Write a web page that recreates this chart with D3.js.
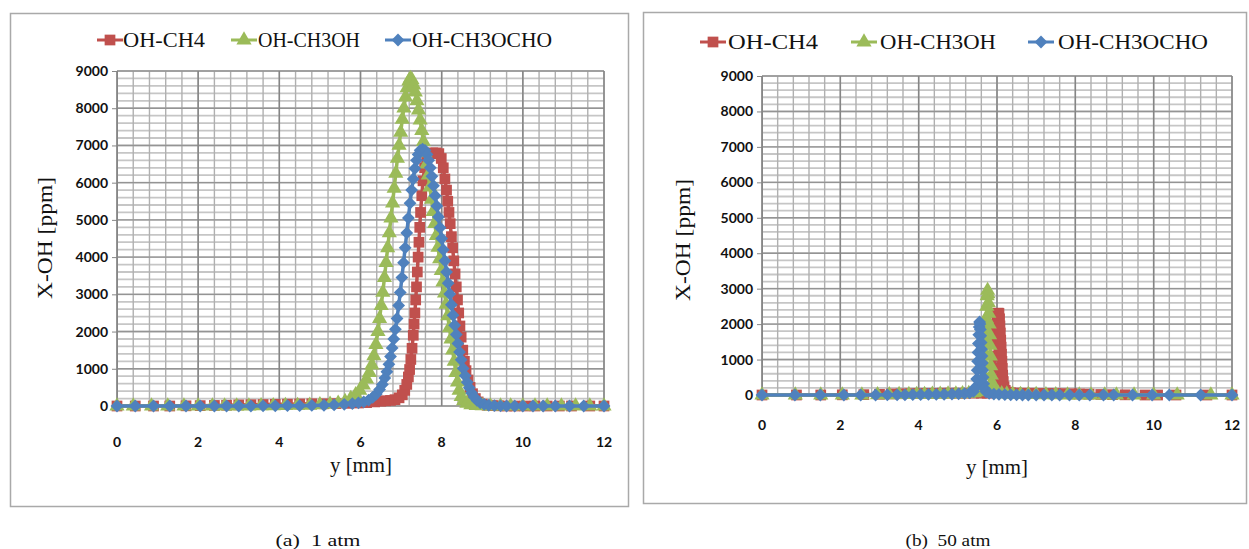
<!DOCTYPE html>
<meta charset="utf-8">
<body>
<script src="https://cdn.jsdelivr.net/npm/d3@7"></script>
<style>
  body { margin: 0; background: #fff; }
  .tick-lbl { font: bold 14px Lato, "Liberation Sans", sans-serif; fill: #111; }
  .serif { font-family: "Liberation Serif", "DejaVu Serif", serif; fill: #111; }
</style>
<svg id="chart" width="1249" height="549"></svg>
<script>
// ---- data ----
var seriesNames = ["OH-CH4", "OH-CH3OH", "OH-CH3OCHO"];
var seriesColors = ["#c0504d", "#9bbb59", "#4f81bd"];
var xTicks = [0, 2, 4, 6, 8, 10, 12];
var yTicks = [0, 1000, 2000, 3000, 4000, 5000, 6000, 7000, 8000, 9000];
var captions = ["(a)  1 atm", "(b)  50 atm"];
var xTitle = "y [mm]";
var yTitle = "X-OH [ppm]";

// (a) 1 atm, pairs of [y mm, X-OH ppm]
var ch4_1atm = [[0,0],[0.45,0],[0.9,0],[1.3,0],[1.7,5],[2.05,10],[2.4,15],[2.7,20],[3.0,30],[3.3,35],
  [3.6,40],[3.9,45],[4.2,50],[4.5,55],[4.8,60],[5.1,60],[5.4,65],[5.7,70],[5.95,80],[6.15,90],
  [6.35,110],[6.5,130],[6.62,140],[6.74,150],[6.85,170],[6.95,220],[7.03,300],[7.09,420],[7.14,580],[7.18,780],
  [7.21,980],[7.24,1250],[7.27,1550],[7.3,1900],[7.32,2200],[7.34,2500],[7.36,2850],[7.38,3200],[7.4,3600],[7.42,4000],
  [7.44,4400],[7.46,4800],[7.48,5200],[7.51,5650],[7.54,6050],[7.58,6400],[7.63,6650],[7.7,6780],[7.78,6800],[7.86,6800],
  [7.93,6780],[7.99,6650],[8.04,6400],[8.08,6100],[8.12,5800],[8.15,5500],[8.18,5200],[8.21,4900],[8.24,4550],[8.27,4250],
  [8.3,3900],[8.33,3550],[8.36,3200],[8.39,2850],[8.42,2500],[8.45,2150],[8.48,1850],[8.52,1500],[8.56,1200],[8.6,950],
  [8.65,700],[8.7,500],[8.76,330],[8.83,200],[8.9,110],[9.0,50],[9.12,20],[9.25,10],[9.4,5],[9.6,0],
  [9.8,0],[10.05,0],[10.3,0],[10.6,0],[10.9,0],[11.2,0],[11.65,0],[12.0,0]];

var ch3oh_1atm = [[0,0],[0.4,0],[0.85,0],[1.25,0],[1.65,0],[2.0,0],[2.35,0],[2.65,0],[2.95,0],[3.25,0],
  [3.55,5],[3.85,5],[4.15,10],[4.45,15],[4.75,20],[5.0,30],[5.25,45],[5.45,70],[5.62,120],[5.76,200],
  [5.88,300],[5.98,420],[6.07,560],[6.15,720],[6.22,900],[6.28,1100],[6.33,1350],[6.38,1650],[6.43,2000],[6.47,2350],
  [6.51,2700],[6.55,3050],[6.59,3450],[6.63,3850],[6.67,4250],[6.71,4650],[6.75,5050],[6.79,5450],[6.83,5850],[6.87,6250],
  [6.91,6650],[6.95,7000],[6.99,7350],[7.03,7700],[7.07,8000],[7.11,8300],[7.15,8550],[7.19,8730],[7.23,8800],[7.27,8760],
  [7.31,8620],[7.35,8430],[7.39,8200],[7.43,7950],[7.47,7680],[7.51,7400],[7.55,7100],[7.59,6800],[7.63,6500],[7.67,6200],
  [7.71,5880],[7.75,5550],[7.79,5220],[7.83,4900],[7.87,4580],[7.91,4260],[7.95,3950],[7.99,3640],[8.03,3330],[8.07,3030],
  [8.11,2730],[8.15,2420],[8.19,2100],[8.23,1800],[8.27,1500],[8.31,1200],[8.35,900],[8.39,640],[8.43,420],[8.48,250],
  [8.54,140],[8.62,70],[8.72,30],[8.85,10],[9.0,5],[9.2,0],[9.45,0],[9.7,0],[10.0,0],[10.3,0],
  [10.6,0],[10.95,0],[11.3,0],[11.65,0],[12.0,0]];

var ch3ocho_1atm = [[0,0],[0.45,0],[0.9,0],[1.3,0],[1.7,0],[2.05,0],[2.4,0],[2.7,0],[3.0,0],[3.3,0],
  [3.6,5],[3.9,5],[4.2,10],[4.5,10],[4.8,15],[5.1,20],[5.35,30],[5.6,45],[5.8,65],[5.95,85],
  [6.08,110],[6.2,160],[6.3,230],[6.39,320],[6.47,440],[6.54,580],[6.6,750],[6.65,920],[6.7,1120],[6.74,1330],
  [6.78,1560],[6.82,1800],[6.86,2060],[6.9,2350],[6.94,2700],[6.98,3050],[7.02,3450],[7.06,3850],[7.1,4250],[7.14,4650],
  [7.18,5050],[7.22,5450],[7.26,5800],[7.3,6100],[7.34,6380],[7.38,6600],[7.42,6760],[7.47,6870],[7.53,6900],[7.59,6870],
  [7.64,6760],[7.68,6600],[7.72,6400],[7.76,6170],[7.8,5920],[7.84,5650],[7.88,5370],[7.92,5080],[7.96,4790],[8.0,4500],
  [8.04,4200],[8.08,3900],[8.12,3600],[8.16,3300],[8.2,3010],[8.24,2720],[8.28,2440],[8.32,2170],[8.36,1920],[8.4,1680],
  [8.44,1450],[8.48,1240],[8.53,1010],[8.58,810],[8.63,640],[8.68,490],[8.74,350],[8.8,240],[8.87,150],[8.95,85],
  [9.05,45],[9.16,20],[9.3,10],[9.45,5],[9.6,0],[9.8,0],[10.0,0],[10.25,0],[10.5,0],[10.8,0],
  [11.15,0],[11.5,0],[12.0,0]];

// (b) 50 atm
var ch4_50atm = [[0,0],[0.88,0],[1.5,0],[2.05,5],[2.6,10],[3.0,20],[3.3,30],[3.55,35],[3.8,40],[4.0,40],
  [4.2,45],[4.4,45],[4.6,50],[4.8,50],[5.0,50],[5.2,50],[5.4,50],[5.6,50],[5.75,50],[5.84,80],
  [5.88,200],[5.91,450],[5.93,750],[5.95,1100],[5.965,1450],[5.98,1800],[5.995,2100],[6.01,2300],[6.03,2310],[6.05,2300],
  [6.065,2150],[6.075,1950],[6.085,1750],[6.095,1550],[6.105,1350],[6.115,1150],[6.125,950],[6.135,750],[6.145,560],[6.16,380],
  [6.18,230],[6.21,130],[6.26,80],[6.35,60],[6.5,55],[6.7,50],[6.9,50],[7.1,45],[7.3,45],[7.5,40],
  [7.7,40],[7.9,35],[8.1,30],[8.35,25],[8.65,15],[8.95,10],[9.27,5],[9.78,0],[10.1,0],[10.57,0],
  [11.36,0],[12,0]];

var ch3oh_50atm = [[0,0],[0.85,0],[1.5,0],[2.05,0],[2.55,0],[2.95,5],[3.25,5],[3.5,10],[3.75,10],[3.95,15],
  [4.15,15],[4.35,20],[4.55,20],[4.75,25],[4.95,30],[5.12,35],[5.28,45],[5.42,60],[5.52,90],[5.6,150],
  [5.65,300],[5.675,550],[5.69,850],[5.7,1150],[5.71,1450],[5.72,1800],[5.73,2150],[5.74,2500],[5.75,2800],[5.76,2950],
  [5.77,2850],[5.78,2600],[5.79,2300],[5.8,2000],[5.81,1700],[5.82,1400],[5.83,1100],[5.84,820],[5.855,560],[5.87,350],
  [5.9,200],[5.95,110],[6.02,60],[6.12,35],[6.25,25],[6.4,20],[6.6,15],[6.8,10],[7.0,10],[7.25,5],
  [7.5,5],[7.8,0],[8.1,0],[8.4,0],[8.75,0],[9.05,0],[9.5,0],[10.0,0],[10.6,0],[11.46,0],
  [12,0]];

var ch3ocho_50atm = [[0,0],[0.84,0],[1.49,0],[2.09,0],[2.52,0],[2.9,0],[3.2,5],[3.45,5],[3.65,5],[3.85,10],
  [4.05,10],[4.25,15],[4.45,15],[4.65,20],[4.85,25],[5.02,30],[5.17,40],[5.3,60],[5.4,100],[5.45,220],
  [5.48,450],[5.495,700],[5.505,950],[5.515,1200],[5.525,1450],[5.535,1700],[5.545,1920],[5.555,2060],[5.565,2000],[5.575,1850],
  [5.585,1670],[5.595,1480],[5.605,1290],[5.615,1100],[5.625,900],[5.635,700],[5.645,500],[5.66,320],[5.68,180],[5.72,90],
  [5.8,45],[5.92,25],[6.05,15],[6.2,10],[6.35,5],[6.5,5],[6.65,0],[6.8,0],[7.0,0],[7.2,0],
  [7.4,0],[7.6,0],[7.85,0],[8.1,0],[8.37,0],[8.72,0],[8.98,0],[9.46,0],[9.96,0],[10.4,0],
  [11.2,0],[12,0]];

// ---- layout of the two panels ----
var panels = [
  { frame: [10, 13, 618, 493], left: 117, right: 604, top: 71, bottom: 406,
    series: [ch4_1atm, ch3oh_1atm, ch3ocho_1atm],
    legendY: 40, legendSym: [110, 244, 398], legendTxt: [123, 258, 412], legendLen: [82, 102, 140], legendSize: 20,
    xLabelY: 447, yTitleX: 45, yTitleY: 238, xTitleX: 361, xTitleY: 472, caption: captions[0], captionX: 318 },
  { frame: [643, 12, 603, 491], left: 762, right: 1232, top: 76, bottom: 395,
    series: [ch4_50atm, ch3oh_50atm, ch3ocho_50atm],
    legendY: 42, legendSym: [713, 864, 1041], legendTxt: [728, 880, 1058], legendLen: [90, 116, 150], legendSize: 21,
    xLabelY: 430, yTitleX: 683, yTitleY: 240, xTitleX: 997, xTitleY: 474, caption: captions[1], captionX: 948 }
];

var svg = d3.select("#chart");

// Excel style markers: square, triangle, diamond
function markerPath(i) {
  if (i === 0) return d3.symbol(d3.symbolSquare, 115)();
  if (i === 1) return d3.symbol(d3.symbolTriangle, 100)();
  return d3.symbol(d3.symbolSquare, 82)();
}
function markerTransform(i, px, py) {
  return "translate(" + px + "," + py + ")" + (i === 2 ? " rotate(45)" : "");
}

panels.forEach(function(p) {
  var g = svg.append("g");

  // outer frame of the chart
  g.append("rect")
    .attr("x", p.frame[0] + 0.5).attr("y", p.frame[1] + 0.5)
    .attr("width", p.frame[2]).attr("height", p.frame[3])
    .attr("fill", "#fff").attr("stroke", "#a9a9a9").attr("stroke-width", 1.5);

  var x = d3.scaleLinear().domain([0, 12]).range([p.left, p.right]);
  var y = d3.scaleLinear().domain([0, 9000]).range([p.bottom, p.top]);

  // minor gridlines
  var yMinor = d3.range(0, 46).map(function(i) { return i * 200; });
  var xMinor = d3.range(0, 31).map(function(i) { return i * 0.4; });
  g.append("g").selectAll("line").data(yMinor).enter().append("line")
    .attr("x1", p.left).attr("x2", p.right)
    .attr("y1", function(d) { return y(d); }).attr("y2", function(d) { return y(d); })
    .attr("stroke", "#c6c6c6").attr("stroke-width", 1.8);
  g.append("g").selectAll("line").data(xMinor).enter().append("line")
    .attr("y1", p.top).attr("y2", p.bottom)
    .attr("x1", function(d) { return x(d); }).attr("x2", function(d) { return x(d); })
    .attr("stroke", "#b0b0b0").attr("stroke-width", 1.4);

  // major gridlines
  g.append("g").selectAll("line").data(yTicks).enter().append("line")
    .attr("x1", p.left).attr("x2", p.right)
    .attr("y1", function(d) { return y(d); }).attr("y2", function(d) { return y(d); })
    .attr("stroke", "#949494").attr("stroke-width", 1.4);
  g.append("g").selectAll("line").data(xTicks).enter().append("line")
    .attr("y1", p.top).attr("y2", p.bottom)
    .attr("x1", function(d) { return x(d); }).attr("x2", function(d) { return x(d); })
    .attr("stroke", "#858585").attr("stroke-width", 1.5);

  // y axis with outward ticks
  var yAxis = d3.axisLeft(y).tickValues(yTicks).tickSize(5).tickPadding(4).tickFormat(d3.format("d"));
  var ya = g.append("g").attr("transform", "translate(" + p.left + ",0)").call(yAxis);
  ya.select(".domain").attr("stroke", "#868686");
  ya.selectAll(".tick line").attr("stroke", "#868686");
  ya.selectAll(".tick text").attr("class", "tick-lbl").attr("font-size", null).attr("font-family", null);

  // x tick labels
  g.append("g").selectAll("text").data(xTicks).enter().append("text")
    .attr("class", "tick-lbl")
    .attr("x", function(d) { return x(d); })
    .attr("y", p.xLabelY)
    .attr("text-anchor", "middle")
    .text(function(d) { return d; });

  // series: line then markers, drawn in legend order
  var line = d3.line().x(function(d) { return x(d[0]); }).y(function(d) { return y(d[1]); });
  p.series.forEach(function(s, i) {
    g.append("path").datum(s)
      .attr("d", line).attr("fill", "none")
      .attr("stroke", seriesColors[i]).attr("stroke-width", 3.5);
    g.append("g").selectAll("path").data(s).enter().append("path")
      .attr("d", markerPath(i))
      .attr("transform", function(d) { return markerTransform(i, x(d[0]), y(d[1])); })
      .attr("fill", seriesColors[i]);
  });

  // legend
  seriesNames.forEach(function(name, i) {
    var cx = p.legendSym[i];
    g.append("line")
      .attr("x1", cx - 13).attr("x2", cx + 13)
      .attr("y1", p.legendY).attr("y2", p.legendY)
      .attr("stroke", seriesColors[i]).attr("stroke-width", 3);
    g.append("path").attr("d", markerPath(i))
      .attr("transform", markerTransform(i, cx, p.legendY))
      .attr("fill", seriesColors[i]);
    g.append("text").attr("class", "serif")
      .attr("x", p.legendTxt[i]).attr("y", p.legendY + 7)
      .attr("font-size", p.legendSize)
      .attr("textLength", p.legendLen[i]).attr("lengthAdjust", "spacingAndGlyphs")
      .text(name);
  });

  // axis titles
  g.append("text").attr("class", "serif")
    .attr("transform", "translate(" + p.yTitleX + "," + p.yTitleY + ") rotate(-90)")
    .attr("y", 7)
    .attr("text-anchor", "middle").attr("font-size", 22)
    .attr("textLength", 122).attr("lengthAdjust", "spacingAndGlyphs")
    .text(yTitle);
  g.append("text").attr("class", "serif")
    .attr("x", p.xTitleX).attr("y", p.xTitleY)
    .attr("text-anchor", "middle").attr("font-size", 22)
    .attr("textLength", 62).attr("lengthAdjust", "spacingAndGlyphs")
    .text(xTitle);

  // caption under the frame
  g.append("text").attr("class", "serif")
    .attr("x", p.captionX).attr("y", 546)
    .attr("text-anchor", "middle").attr("font-size", 17)
    .style("white-space", "pre")
    .attr("textLength", 85).attr("lengthAdjust", "spacingAndGlyphs")
    .text(p.caption);
});
</script>
